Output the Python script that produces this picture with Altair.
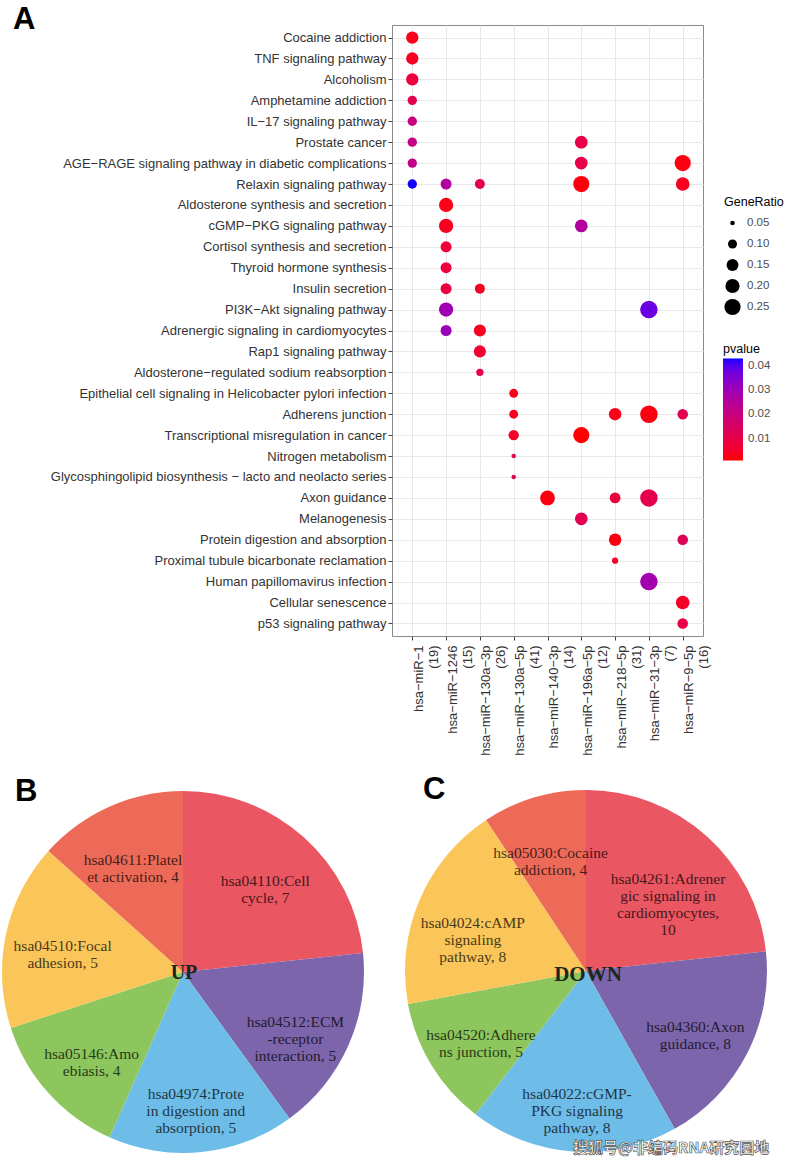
import altair as alt
import pandas as pd

# ---------------- Panel A data ----------------
mirnas = ["hsa−miR−1", "hsa−miR−1246", "hsa−miR−130a−3p", "hsa−miR−130a−5p",
          "hsa−miR−140−3p", "hsa−miR−196a−5p", "hsa−miR−218−5p", "hsa−miR−31−3p",
          "hsa−miR−9−5p"]
mirna_counts = [19, 15, 26, 41, 14, 12, 31, 7, 16]

pathways = [
    "Cocaine addiction", "TNF signaling pathway", "Alcoholism", "Amphetamine addiction",
    "IL−17 signaling pathway", "Prostate cancer",
    "AGE−RAGE signaling pathway in diabetic complications", "Relaxin signaling pathway",
    "Aldosterone synthesis and secretion", "cGMP−PKG signaling pathway",
    "Cortisol synthesis and secretion", "Thyroid hormone synthesis", "Insulin secretion",
    "PI3K−Akt signaling pathway", "Adrenergic signaling in cardiomyocytes",
    "Rap1 signaling pathway", "Aldosterone−regulated sodium reabsorption",
    "Epithelial cell signaling in Helicobacter pylori infection", "Adherens junction",
    "Transcriptional misregulation in cancer", "Nitrogen metabolism",
    "Glycosphingolipid biosynthesis − lacto and neolacto series", "Axon guidance",
    "Melanogenesis", "Protein digestion and absorption",
    "Proximal tubule bicarbonate reclamation", "Human papillomavirus infection",
    "Cellular senescence", "p53 signaling pathway",
]

dot_pathway_idx = [0, 1, 2, 3, 4, 5, 5, 6, 6, 6, 7, 7, 7, 7, 7, 8, 9, 9, 10, 11, 12, 12,
                   13, 13, 14, 14, 15, 16, 17, 18, 18, 18, 18, 19, 19, 20, 21, 22, 22, 22,
                   23, 24, 24, 25, 26, 27, 28]
dot_mirna_idx = [0, 0, 0, 0, 0, 0, 5, 0, 5, 8, 0, 1, 2, 5, 8, 1, 1, 5, 1, 1, 1, 2,
                 1, 7, 1, 2, 2, 2, 3, 3, 6, 7, 8, 3, 5, 3, 3, 4, 6, 7,
                 5, 6, 8, 6, 7, 8, 8]
dot_generatio = [0.158, 0.158, 0.158, 0.105, 0.105, 0.105, 0.167, 0.105, 0.167, 0.25,
                 0.105, 0.133, 0.115, 0.25, 0.1875, 0.2, 0.2, 0.167, 0.133, 0.133,
                 0.133, 0.115, 0.2, 0.286, 0.133, 0.154, 0.154, 0.077, 0.098, 0.098,
                 0.161, 0.286, 0.125, 0.122, 0.25, 0.049, 0.049, 0.214, 0.129, 0.286,
                 0.167, 0.161, 0.125, 0.065, 0.286, 0.1875, 0.125]
dot_pvalue = [0.003, 0.004, 0.008, 0.011, 0.020, 0.021, 0.010, 0.022, 0.010, 0.002,
              0.043, 0.026, 0.011, 0.002, 0.004, 0.003, 0.004, 0.026, 0.008, 0.008,
              0.009, 0.004, 0.030, 0.038, 0.031, 0.004, 0.006, 0.010, 0.003, 0.004,
              0.003, 0.002, 0.012, 0.005, 0.001, 0.012, 0.012, 0.002, 0.008, 0.011,
              0.012, 0.002, 0.013, 0.005, 0.029, 0.005, 0.010]

x_labels = [f"{m}|({c})" for m, c in zip(mirnas, mirna_counts)]
dots_df = pd.DataFrame({
    "mirna": [x_labels[i] for i in dot_mirna_idx],
    "pathway": [pathways[i] for i in dot_pathway_idx],
    "GeneRatio": dot_generatio,
    "pvalue": dot_pvalue,
})

# ---------------- Panels B / C data ----------------
up_labels = ["hsa04110:Cell\ncycle, 7", "hsa04512:ECM\n-receptor\ninteraction, 5",
             "hsa04974:Prote\nin digestion and\nabsorption, 5", "hsa05146:Amo\nebiasis, 4",
             "hsa04510:Focal\nadhesion, 5", "hsa04611:Platel\net activation, 4"]
up_values = [7, 5, 5, 4, 5, 4]
down_labels = ["hsa04261:Adrener\ngic signaling in\ncardiomyocytes,\n10",
               "hsa04360:Axon\nguidance, 8", "hsa04022:cGMP-\nPKG signaling\npathway, 8",
               "hsa04520:Adhere\nns junction, 5", "hsa04024:cAMP\nsignaling\npathway, 8",
               "hsa05030:Cocaine\naddiction, 4"]
down_values = [10, 8, 8, 5, 8, 4]
slice_colors = ["#EA5662", "#7C65AA", "#6EBCE8", "#8CC65C", "#FAC65A", "#EE6A58"]

panel_letters = ["A", "B", "C"]
watermark = ["搜狐号@非编码RNA研究园地"]

PLOT_W, PLOT_H = 311, 611
LEFT, TOP = 392, 25

# ---------------- Panel A ----------------
dots = alt.Chart(dots_df).mark_circle(opacity=1).encode(
    x=alt.X("mirna:N", sort=x_labels,
            scale=alt.Scale(type="point", padding=0.6),
            axis=alt.Axis(title=None, labelAngle=-90, labelAlign="right",
                          labelBaseline="top", labelExpr="split(datum.label, '|')",
                          labelFontSize=13, labelLineHeight=15, labelPadding=5,
                          tickSize=4, grid=True, domain=False, labelColor="#333333")),
    y=alt.Y("pathway:N", sort=pathways,
            scale=alt.Scale(type="point", padding=0.6),
            axis=alt.Axis(title=None, labelFontSize=13, labelLimit=600, tickSize=4,
                          labelPadding=2, grid=True, domain=False, labelColor="#333333")),
    size=alt.Size("GeneRatio:Q",
                  scale=alt.Scale(domain=[0.049, 0.286], range=[20, 306]),
                  legend=alt.Legend(title="GeneRatio", orient="none", legendX=332,
                                    legendY=171, values=[0.05, 0.10, 0.15, 0.20, 0.25],
                                    format=".2f", symbolFillColor="black",
                                    symbolStrokeWidth=0, symbolType="circle",
                                    symbolOpacity=1, clipHeight=19, rowPadding=2,
                                    titlePadding=5, labelOffset=6,
                                    labelColor="#4d4d4d")),
    color=alt.Color("pvalue:Q",
                    scale=alt.Scale(domain=[0.0009, 0.0432], range=["#FF0000", "#0000FF"],
                                    interpolate="lab"),
                    legend=alt.Legend(title="pvalue", orient="none", legendX=331,
                                      legendY=318, values=[0.01, 0.02, 0.03, 0.04],
                                      format=".2f", gradientLength=102,
                                      gradientThickness=20, direction="vertical",
                                      titlePadding=3, labelOffset=5,
                                      labelColor="#4d4d4d")),
)

# ---------------- Pies ----------------
def pie_layers(labels, values, cx, cy):
    df = pd.DataFrame({"order": list(range(len(values))), "value": values,
                       "label": labels, "color": slice_colors})
    base = alt.Chart(df).encode(
        theta=alt.Theta("value:Q", stack=True),
        order=alt.Order("order:Q", sort="ascending"),
        detail="order:N",
        x=alt.value(cx - LEFT), y=alt.value(cy - TOP),
    )
    arc = base.mark_arc(outerRadius=181).encode(fill=alt.Fill("color:N", scale=None))
    txt = base.mark_text(radius=123, font="Liberation Serif", fontSize=15.5,
                         lineBreak="\n", lineHeight=17, fill="black", opacity=0.72,
                         align="center", baseline="middle").encode(text="label:N")
    return arc, txt

arcB, txtB = pie_layers(up_labels, up_values, 183, 972)
arcC, txtC = pie_layers(down_labels, down_values, 586, 971)

center_df_up = pd.DataFrame({"t": ["UP"]})
center_df_down = pd.DataFrame({"t": ["DOWN"]})
upText = alt.Chart(center_df_up).mark_text(
    font="Liberation Serif", fontSize=20, fontWeight="bold", color="#1d261d",
    align="center", baseline="middle").encode(
    text="t:N", x=alt.value(184 - LEFT), y=alt.value(973 - TOP))
downText = alt.Chart(center_df_down).mark_text(
    font="Liberation Serif", fontSize=21, fontWeight="bold", color="#1d261d",
    align="center", baseline="middle").encode(
    text="t:N", x=alt.value(588 - LEFT), y=alt.value(975 - TOP))

letter_pos = [(13, 29), (15, 801), (423, 799)]
letters = []
for L, (lx, ly) in zip(panel_letters, letter_pos):
    letters.append(alt.Chart(pd.DataFrame({"t": [L]})).mark_text(
        font="Liberation Sans", fontSize=31, fontWeight="bold", color="black",
        align="left", baseline="alphabetic").encode(
        text="t:N", x=alt.value(lx - LEFT), y=alt.value(ly - TOP)))

wm = alt.Chart(pd.DataFrame({"t": watermark})).mark_text(
    font="Noto Sans CJK SC", fontSize=15, fontWeight="bold", fill="white",
    stroke="#555555", strokeWidth=0.7, align="left", baseline="alphabetic").encode(
    text="t:N", x=alt.value(573 - LEFT), y=alt.value(1153 - TOP))

chart = alt.layer(dots, arcB, txtB, arcC, txtC, upText, downText, *letters, wm).resolve_scale(
    theta="independent"
).properties(
    width=PLOT_W, height=PLOT_H,
    autosize=alt.AutoSizeParams(type="none"),
    padding={"left": LEFT, "top": TOP, "right": 787 - LEFT - PLOT_W,
             "bottom": 1160 - TOP - PLOT_H},
    background="white",
).configure_view(
    stroke="#8a8a8a", strokeWidth=1
).configure_axis(
    gridColor="#e8e8e8", gridWidth=1, tickColor="#444444", labelFont="Liberation Sans"
).configure_legend(
    titleFont="Liberation Sans", titleFontSize=12.5, titleFontWeight="normal",
    titleColor="black", labelFont="Liberation Sans", labelFontSize=11.5,
    padding=0
)

chart.save("out.html", embed_options={"renderer": "svg", "actions": False})
